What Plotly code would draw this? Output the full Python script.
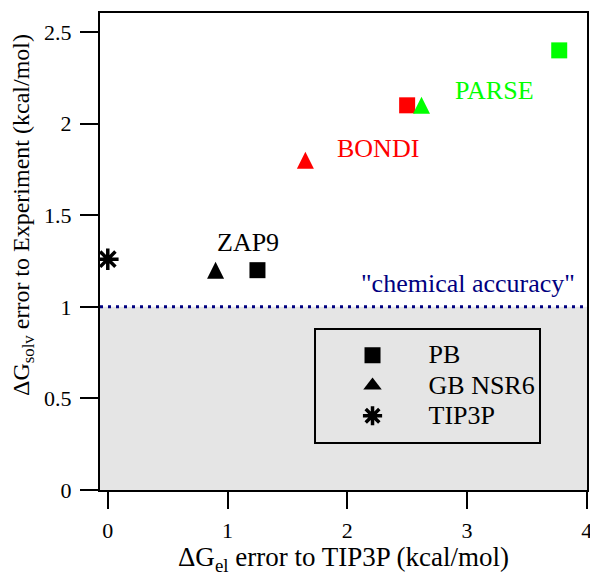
import plotly.graph_objects as go

# Radii sets (one colour per set)
radii_sets = ["ZAP9", "BONDI", "PARSE"]
radii_colors = ["#000000", "#ff0000", "#00ff00"]

# Electrostatic error vs TIP3P (x) and solvation free energy error vs experiment (y), kcal/mol
pb_el_err = [1.25, 2.50, 3.77]
pb_solv_err = [1.20, 2.10, 2.40]
gb_el_err = [0.90, 1.65, 2.62]
gb_solv_err = [1.20, 1.80, 2.10]
tip3p_el_err = [0.0]
tip3p_solv_err = [1.26]

chemical_accuracy = 1.0

x_ticks = [0, 1, 2, 3, 4]
y_ticks = [0, 0.5, 1, 1.5, 2, 2.5]
y_tick_text = ["0", "0.5", "1", "1.5", "2", "2.5"]

FONT = "Liberation Serif"


def legend_name(text):
    return '<span style="font-size:26px">%s</span>' % text


fig = go.Figure()

fig.add_trace(go.Scatter(
    x=pb_el_err, y=pb_solv_err, mode="markers", name=legend_name("PB"),
    marker=dict(symbol="square", size=16, color=radii_colors, line=dict(width=0)),
))
# upward triangle centred on its point (arrow-down turned over, backed off by half its height)
fig.add_trace(go.Scatter(
    x=gb_el_err, y=gb_solv_err, mode="markers", name=legend_name("GB NSR6"),
    marker=dict(symbol="arrow-down", angle=180, size=17, standoff=8.5,
                color=radii_colors, line=dict(width=0)),
    showlegend=False, legendgroup="gb",
))
# legend entry for the GB points (the legend ignores marker standoff)
fig.add_trace(go.Scatter(
    x=[None], y=[None], mode="markers", name=legend_name("GB NSR6"),
    marker=dict(symbol="triangle-up", size=16, color="black", line=dict(width=0)),
    legendgroup="gb",
))
fig.add_trace(go.Scatter(
    x=tip3p_el_err, y=tip3p_solv_err, mode="markers", name=legend_name("TIP3P"),
    marker=dict(symbol="asterisk-open", size=18, color="black", line=dict(width=3.5, color="black")),
))

# shaded region below chemical accuracy, the threshold line, legend frame
fig.add_shape(type="rect", xref="paper", yref="y", x0=0, x1=1, y0=0, y1=chemical_accuracy,
              fillcolor="#e5e5e5", line=dict(width=0), layer="below")
fig.add_shape(type="line", xref="paper", yref="y", x0=0, x1=1, y0=chemical_accuracy, y1=chemical_accuracy,
              line=dict(color="#000080", width=3, dash="3px,5px"), layer="below")
fig.add_shape(type="rect", xref="paper", yref="paper", x0=0.4415, x1=0.9035, y0=0.0985, y1=0.3375,
              fillcolor="#e5e5e5", line=dict(color="black", width=2), layer="below")

# radii-set labels next to their points
label_pos = {"ZAP9": (1.17, 1.35), "BONDI": (2.26, 1.865), "PARSE": (3.23, 2.18)}
for name, color in zip(radii_sets, radii_colors):
    lx, ly = label_pos[name]
    fig.add_annotation(x=lx, y=ly, text=name, showarrow=False,
                       font=dict(family=FONT, size=26, color=color))

fig.add_annotation(x=3.01, y=1.13, text='"chemical accuracy"', showarrow=False,
                   font=dict(family=FONT, size=26, color="#000080"))

# axis titles
fig.add_annotation(xref="paper", yref="paper", x=0.5, y=-0.145,
                   xanchor="center", yanchor="middle", showarrow=False,
                   text="ΔG<sub>el</sub> error to TIP3P (kcal/mol)",
                   font=dict(family=FONT, size=27, color="black"))
fig.add_annotation(xref="paper", yref="paper", x=0, y=0.5765, xshift=-77,
                   xanchor="center", yanchor="middle", textangle=-90, showarrow=False,
                   text="ΔG<sub>solv</sub> error to Experiment (kcal/mol)",
                   font=dict(family=FONT, size=24, color="black"))

axis_common = dict(
    showline=True, linewidth=2, linecolor="black", mirror=True,
    ticks="outside", tickwidth=2, tickcolor="black",
    showgrid=False, zeroline=False, automargin=False, ticklabeloverflow="allow",
    tickfont=dict(family=FONT, size=22, color="black"),
)

fig.update_layout(
    width=590, height=578,
    margin=dict(l=100, r=3, t=13, b=88),
    paper_bgcolor="white", plot_bgcolor="white",
    font=dict(family=FONT, color="black"),
    showlegend=True,
    legend=dict(x=0.4446, y=0.325, xanchor="left", yanchor="top",
                bgcolor="rgba(0,0,0,0)", borderwidth=0,
                font=dict(family=FONT, size=21, color="black"),
                itemwidth=102, tracegroupgap=0),
    xaxis=dict(range=[-0.065, 4.002], tickvals=x_ticks, ticklen=17, ticklabelstandoff=3,
               **axis_common),
    yaxis=dict(range=[0, 2.604], tickvals=y_ticks, ticktext=y_tick_text, ticklen=18,
               ticklabelstandoff=4, **axis_common),
)

fig.write_html("out.html")
